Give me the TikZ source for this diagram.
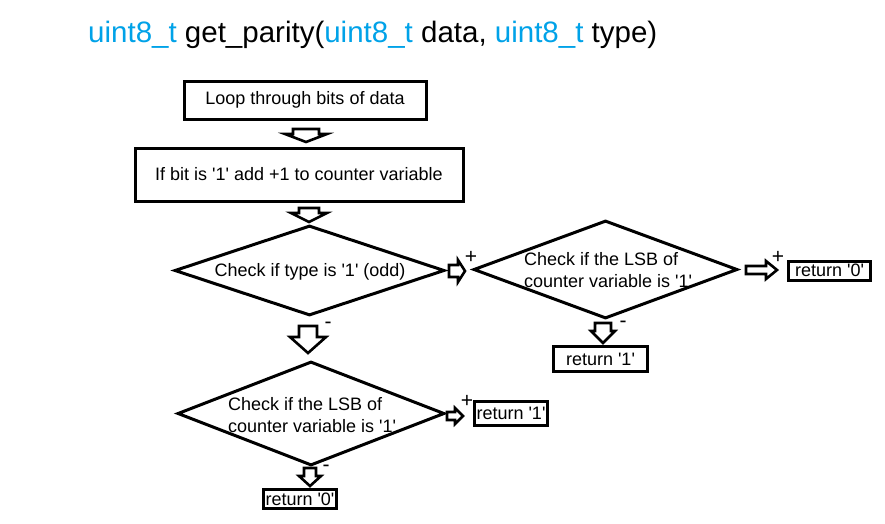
\documentclass[tikz,border=0pt]{standalone}
\usepackage{fontspec}
\setmainfont{Liberation Sans}
\usetikzlibrary{shapes.geometric}
\definecolor{pblue}{RGB}{0,162,232}
\newcommand{\sq}{\textquotesingle}
\newcommand{\bdown}[6]{%
 \draw[barrow] ({#1-#5},#2) -- ({#1+#5},#2) -- ({#1+#5},#3) -- ({#1+#6},#3) -- (#1,#4) -- ({#1-#6},#3) -- ({#1-#5},#3) -- cycle;}
\newcommand{\bright}[6]{%
 \draw[barrow] (#2,{#1-#5}) -- (#3,{#1-#5}) -- (#3,{#1-#6}) -- (#4,#1) -- (#3,{#1+#6}) -- (#3,{#1+#5}) -- (#2,{#1+#5}) -- cycle;}
\begin{document}
\begin{tikzpicture}[x=1pt,y=-1pt,
  box/.style={draw,line width=3pt,inner sep=0pt,font=\fontsize{18}{21}\selectfont},
  dia/.style={draw,diamond,line width=3pt,inner sep=0pt},
  dtext/.style={inner sep=0pt,align=left,font=\fontsize{18}{22.5}\selectfont},
  barrow/.style={draw,line width=2.6pt,fill=white,line join=miter},
  sign/.style={inner sep=0pt,font=\fontsize{21}{21}\selectfont}]
\useasboundingbox (0,0) rectangle (885,523);
\fill[white] (0,0) rectangle (885,523);
% title
\node[anchor=base west,inner sep=0pt,font=\fontsize{29.5}{34}\selectfont] (title) at (88,42)
  {{\color{pblue}uint8\_t} get\_parity({\color{pblue}uint8\_t} data, {\color{pblue}uint8\_t} type)};
% boxes
\node[box,minimum width=242pt,minimum height=38pt] (loop) at (305,100) {Loop through bits of data};
\node[box,minimum width=328pt,minimum height=53pt] (add) at (299,174.5) {If bit is \sq1\sq\ add +1 to counter variable};
% diamonds
\node[dia,minimum width=270pt,minimum height=90pt] (d1) at (309.5,270.5) {};
\node[dtext] (d1t) at (310,272) {Check if type is \sq1\sq\ (odd)};
\node[dia,minimum width=264pt,minimum height=98pt] (d2) at (605.5,269.5) {};
\node[dtext] (d2t) at (608,270) {Check if the LSB of\\counter variable is \sq1\sq};
\node[dia,minimum width=267pt,minimum height=104pt] (d3) at (311,413.5) {};
\node[dtext] (d3t) at (312,415) {Check if the LSB of\\counter variable is \sq1\sq};
% returns
\node[box,minimum width=82pt,minimum height=19pt] (r0a) at (829.5,270.5) {return \sq0\sq};
\node[box,minimum width=94pt,minimum height=25pt] (r1a) at (600.5,359) {return \sq1\sq};
\node[box,minimum width=73pt,minimum height=24pt] (r1b) at (511,413.5) {return \sq1\sq};
\node[box,minimum width=73pt,minimum height=19pt] (r0b) at (300,499) {return \sq0\sq};
% block arrows
\bdown{306}{129}{134}{142}{13}{21}
\bdown{309}{208}{213}{222}{10}{18}
\bdown{308}{326}{337}{353}{9}{18}
\bright{271}{449}{458}{465}{6}{11}
\bright{270}{746}{766}{777}{4}{9}
\bdown{603}{323}{331}{343}{8}{12}
\bright{416}{447}{455}{463}{4}{8}
\bdown{310}{468}{476}{486}{6}{11}
% signs
\node[sign] (p1) at (471,257) {+};
\node[sign] (p2) at (778,257) {+};
\node[sign] (p3) at (467,401) {+};
\node[sign] (m1) at (328,325) {-};
\node[sign] (m2) at (623,324) {-};
\node[sign] (m3) at (326,468) {-};
\end{tikzpicture}
\end{document}
